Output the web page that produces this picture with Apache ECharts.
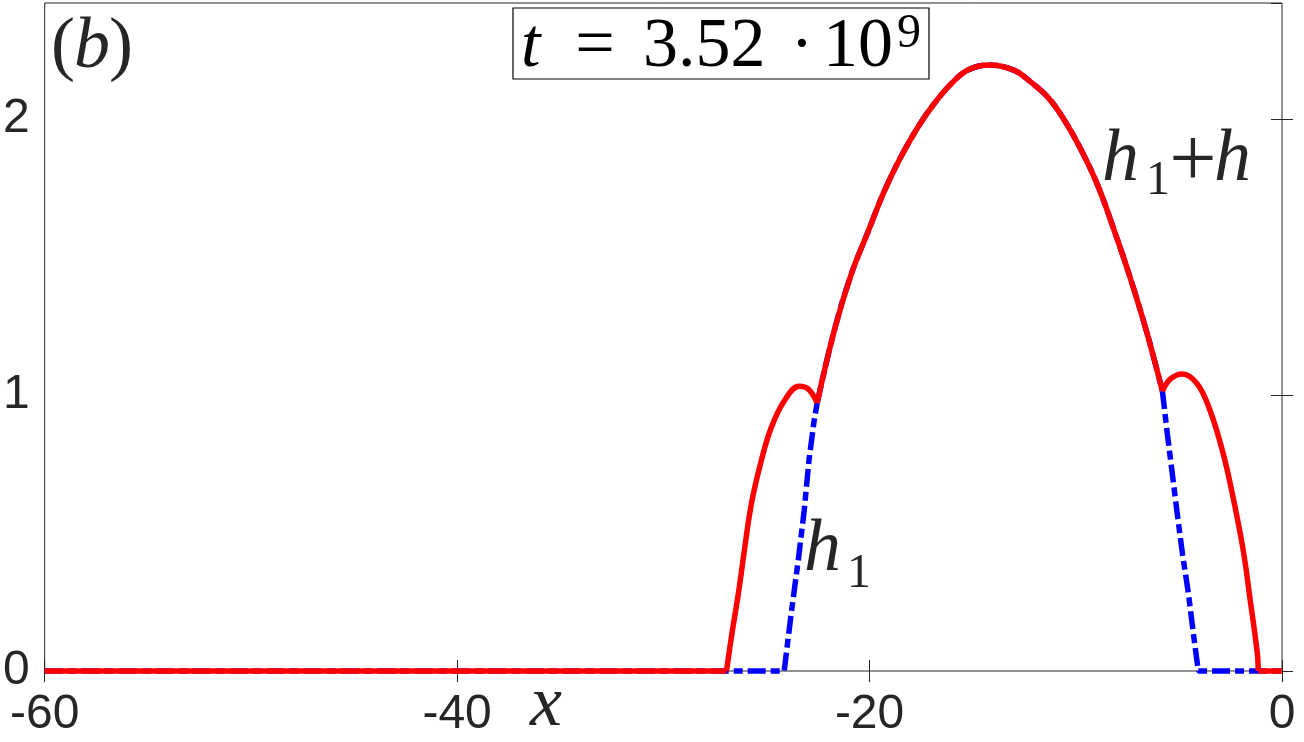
<!DOCTYPE html>
<html>
<head>
<meta charset="utf-8">
<script src="https://cdn.jsdelivr.net/npm/echarts@6/dist/echarts.min.js"></script>
<style>
  html, body { margin: 0; padding: 0; background: #fff; }
  #chart { width: 1304px; height: 742px; }
</style>
</head>
<body>
<div id="chart"></div>
<script>
// axis ticks
const xTicks = [-60, -40, -20, 0];
const yTicks = [0, 1, 2];

// shared big hump (h1 and h1+h coincide here)
const humpX = [-22.54, -21.72, -20.89, -20.07, -19.30, -18.48, -17.65, -16.88, -16.06, -15.23, -14.22,
               -13.01, -12.19, -11.36, -10.59, -9.77, -8.95, -8.17, -7.35, -6.53, -5.80];
const humpY = [0.971, 1.231, 1.437, 1.592, 1.736, 1.863, 1.971, 2.054, 2.126, 2.177, 2.195,
               2.177, 2.134, 2.079, 2.000, 1.892, 1.762, 1.603, 1.422, 1.220, 1.014];

// h1+h outer bumps
const sumLeftX = [-26.94, -26.70, -26.36, -26.07, -25.73, -25.25, -24.77, -24.14, -23.41, -22.97, -22.54];
const sumLeftY = [0, 0.123, 0.282, 0.437, 0.606, 0.762, 0.881, 0.978, 1.032, 1.022, 0.971];
const sumRightX = [-5.80, -5.41, -4.83, -4.11, -3.48, -2.85, -2.37, -1.88, -1.54, -1.20, -1.15];
const sumRightY = [1.014, 1.058, 1.076, 1.040, 0.942, 0.787, 0.628, 0.437, 0.256, 0.065, 0];

// h1 flanks (including the flat zero parts)
const h1LeftX = [-60, -24.14, -23.80, -23.46, -23.17, -22.94, -22.69, -22.54];
const h1LeftY = [0, 0, 0.209, 0.400, 0.581, 0.762, 0.906, 0.971];
const h1RightX = [-5.80, -5.56, -5.32, -5.08, -4.83, -4.54, -4.30, -4.06, 0];
const h1RightY = [1.014, 0.859, 0.715, 0.570, 0.426, 0.282, 0.137, 0, 0];

// flat zero parts of h1+h
const flatLeftX = [-60, -26.94];
const flatRightX = [-1.15, 0];

function pairs(xs, ys) {
    return xs.map((x, i) => [x, ys ? ys[i] : 0]);
}

const axisColor = '#262626';
const serif = '"Liberation Serif", "DejaVu Serif", serif';
const mathColor = '#262626';
const blueStyle = { color: '#0000ff', width: 5.5, type: [18, 5, 9, 5], cap: 'butt' };
const redStyle = { color: '#ff0000', width: 5.5, join: 'round' };

function line(name, data, style, smooth, z) {
    return { name: name, type: 'line', data: data, showSymbol: false, clip: false,
             smooth: smooth, lineStyle: style, z: z };
}

function mtext(str, x, y, size, italic, align, color) {
    return {
        type: 'text', x: x, y: y, z: 10,
        style: {
            text: str,
            font: (italic ? 'italic ' : '') + size + 'px ' + serif,
            fill: color || mathColor,
            textAlign: align || 'left',
            textVerticalAlign: 'middle'
        }
    };
}

const tickAxis = { show: false };
const myChart = echarts.init(document.getElementById('chart'));
const option = {
    animation: false,
    backgroundColor: '#fff',
    grid: { left: 42, right: 22, top: 3, bottom: 71, show: true, borderColor: axisColor, borderWidth: 1 },
    xAxis: [{
        type: 'value', min: xTicks[0], max: xTicks[xTicks.length - 1], interval: 20,
        axisLine: { show: false },
        axisTick: { inside: true, length: 11, lineStyle: { color: axisColor } },
        splitLine: { show: false },
        axisLabel: { color: axisColor, fontSize: 48, fontFamily: '"Liberation Sans", Arial, sans-serif', margin: 20 }
    }, {
        type: 'value', position: 'top', min: xTicks[0], max: xTicks[xTicks.length - 1], interval: 20,
        axisLine: { show: false },
        axisTick: { inside: true, length: 11, lineStyle: { color: axisColor } },
        splitLine: { show: false },
        axisLabel: { show: false }
    }],
    yAxis: [{
        type: 'value', min: yTicks[0], max: 2.42, interval: 1,
        axisLine: { show: false },
        axisTick: { inside: true, length: 11, lineStyle: { color: axisColor } },
        splitLine: { show: false },
        axisLabel: { color: axisColor, fontSize: 48, fontFamily: '"Liberation Sans", Arial, sans-serif', margin: 15, showMaxLabel: false }
    }, {
        type: 'value', position: 'right', min: yTicks[0], max: 2.42, interval: 1,
        axisLine: { show: false },
        axisTick: { inside: true, length: 11, lineStyle: { color: axisColor } },
        splitLine: { show: false },
        axisLabel: { show: false }
    }],
    series: [
        // h1, dash-dot blue
        line('h1', pairs(h1LeftX, h1LeftY), blueStyle, false, 2),
        line('h1', pairs(humpX, humpY), blueStyle, 0.4, 2),
        line('h1', pairs(h1RightX, h1RightY), blueStyle, false, 2),
        // h1+h, solid red
        line('h1+h', pairs(flatLeftX), redStyle, false, 3),
        line('h1+h', pairs(sumLeftX, sumLeftY), redStyle, 0.4, 3),
        line('h1+h', pairs(humpX, humpY), redStyle, 0.4, 3),
        line('h1+h', pairs(sumRightX, sumRightY), redStyle, 0.4, 3),
        line('h1+h', pairs(flatRightX), redStyle, false, 3)
    ],
    graphic: [
        // panel label (b)
        mtext('(', 51, 48, 72, false),
        mtext('b', 74, 48, 72, true),
        mtext(')', 109, 48, 72, false),
        // time box
        { type: 'rect', z: 9, shape: { x: 513, y: 8, width: 416, height: 71 },
          style: { fill: '#fff', stroke: '#000', lineWidth: 1.2 } },
        mtext('t', 521, 48, 70, true, 'left', '#000'),
        mtext('=', 595, 48, 70, false, 'center', '#000'),
        mtext('3.52', 643, 48, 70, false, 'left', '#000'),
        mtext('·', 802, 48, 70, false, 'center', '#000'),
        mtext('10', 823, 48, 70, false, 'left', '#000'),
        mtext('9', 897, 34, 48, false, 'left', '#000'),
        // curve labels
        mtext('h', 1102, 161, 74, true),
        mtext('1', 1146, 181, 48, false),
        mtext('+', 1193, 164, 84, false, 'center'),
        mtext('h', 1214, 161, 74, true),
        mtext('h', 804, 551, 74, true),
        mtext('1', 847, 574, 48, false),
        // axis label
        mtext('x', 530, 706, 72, true)
    ]
};
myChart.setOption(option);
window.addEventListener('resize', function () {
    myChart.resize();
});
</script>
</body>
</html>
